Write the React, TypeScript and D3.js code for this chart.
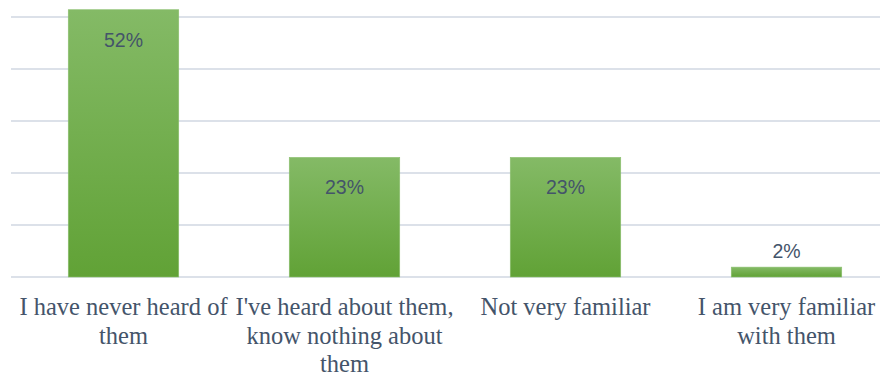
import React from "react";
import * as d3 from "d3";

const categories = [
  "I have never heard of them",
  "I've heard about them, know nothing about them",
  "Not very familiar",
  "I am very familiar with them",
];
const categoryLines = [
  ["I have never heard of", "them"],
  ["I've heard about them,", "know nothing about", "them"],
  ["Not very familiar"],
  ["I am very familiar", "with them"],
];
const values = [51.4, 23, 23, 1.9];
const valueLabels = ["52%", "23%", "23%", "2%"];
const gridTicks = [0, 10, 20, 30, 40, 50];

const W = 880;
const H = 376;

export default function App() {
  const x = d3
    .scaleBand<string>()
    .domain(categories)
    .range([13, 897])
    .paddingInner(0.5)
    .paddingOuter(0.25);
  const y = d3.scaleLinear().domain([0, 50]).range([277, 17]);
  const textColor = "#44546a";

  return (
    <svg
      width={W}
      height={H}
      style={{ position: "fixed", left: 0, top: 0, background: "#fff" }}
    >
      <defs>
        <linearGradient id="barGrad" x1="0" y1="0" x2="0" y2="1">
          <stop offset="0" stopColor="#84ba66" />
          <stop offset="1" stopColor="#61a236" />
        </linearGradient>
      </defs>
      {gridTicks.map((t) => (
        <line
          key={t}
          x1={11}
          x2={W}
          y1={y(t)}
          y2={y(t)}
          stroke="#dce1e9"
          strokeWidth={2}
        />
      ))}
      {categories.map((c, i) => {
        const bx = x(c) as number;
        const bw = x.bandwidth();
        const top = y(values[i]);
        const h = y(0) - top;
        const inside = h > 40;
        return (
          <g key={c}>
            <rect
              x={bx}
              y={top}
              width={bw}
              height={h}
              fill="url(#barGrad)"
              stroke="#8cc070"
              strokeWidth={0.6}
            />
            <text
              x={bx + bw / 2}
              y={inside ? top + 37 : top - 9}
              textAnchor="middle"
              fontFamily="'Liberation Sans', Arial, sans-serif"
              fontSize={19.5}
              fill={textColor}
            >
              {valueLabels[i]}
            </text>
            <text
              textAnchor="middle"
              fontFamily="'Liberation Serif', 'Times New Roman', serif"
              fontSize={24.5}
              fill={textColor}
            >
              {categoryLines[i].map((ln, j) => (
                <tspan key={j} x={bx + bw / 2} y={315 + j * 28.5}>
                  {ln}
                </tspan>
              ))}
            </text>
          </g>
        );
      })}
    </svg>
  );
}
